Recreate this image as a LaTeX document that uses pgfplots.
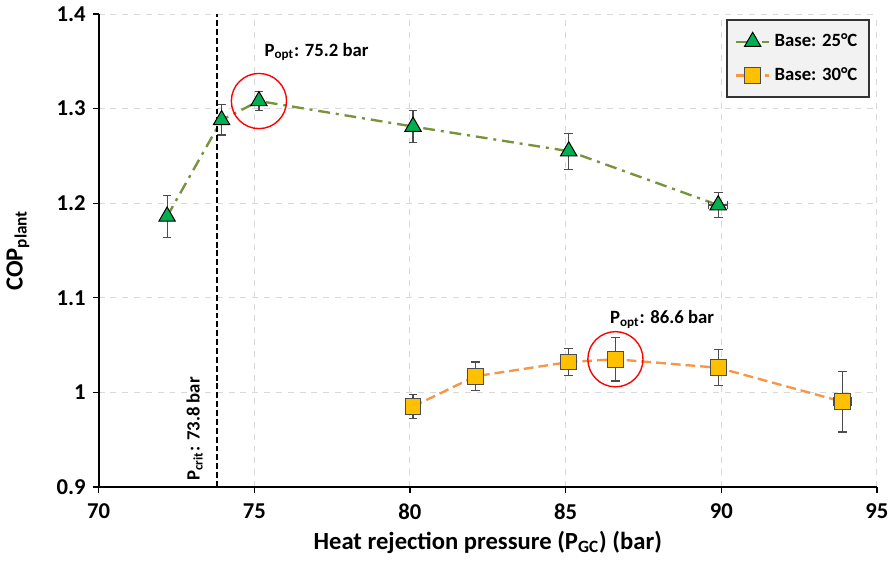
\documentclass[border=0pt]{standalone}
\usepackage{fontspec}
\setmainfont{Carlito}
\usepackage{pgfplots}
\pgfplotsset{compat=1.18}
\definecolor{olive25}{HTML}{77933C}
\definecolor{green25}{HTML}{00B050}
\definecolor{orange30}{HTML}{F79646}
\definecolor{gold30}{HTML}{FFC000}
\definecolor{gridgray}{HTML}{D9D9D9}
\begin{document}
\begin{tikzpicture}
\begin{axis}[
  scale only axis,
  width=395pt, height=240pt,
  xmin=70, xmax=95, ymin=0.9, ymax=1.4,
  xtick={70,75,...,95},
  ytick={0.9,1,1.1,1.2,1.3,1.4},
  axis x line*=bottom, axis y line*=left,
  axis line style={line width=1pt, black},
  tick align=outside, major tick length=3pt,
  tick style={black, line width=0.6pt},
  grid=major,
  major grid style={gridgray, dashed, line width=0.5pt},
  /pgf/number format/assume math mode=true,
  ticklabel style={font=\fontsize{11.5}{13}\selectfont\bfseries},
  xticklabel style={yshift=-2pt},
  xlabel={Heat rejection pressure (P\textsubscript{GC}) (bar)},
  ylabel={COP\textsubscript{plant}},
  label style={font=\fontsize{12.5}{15}\selectfont\bfseries},
  xlabel style={yshift=1pt},
  ylabel style={yshift=7pt},
  clip=false,
  legend style={at={(0.991,0.989)}, anchor=north east, fill=black!5,
    draw=black!80, line width=0.8pt, font=\fontsize{9.5}{11}\selectfont\bfseries,
    row sep=5pt, inner xsep=4pt, inner ysep=5pt},
  legend cell align=left,
  error bars/error bar style={solid, black!70, line width=0.6pt},
  error bars/error mark options={solid, rotate=90, mark size=2.2pt, black!70, line width=0.6pt},
]
\addplot[olive25, line width=1.2pt, dash pattern=on 6pt off 3pt on 1.5pt off 3pt,
  mark=triangle*, mark size=4.8pt,
  mark options={solid, fill=green25, draw=black, line width=0.5pt},
  error bars/.cd, y dir=both, y explicit, x dir=both, x explicit]
coordinates {
  (72.2,1.186) +- (0,0.022)
  (73.95,1.288) +- (0,0.016)
  (75.15,1.308) +- (0,0.010)
  (80.1,1.281) +- (0,0.017)
  (85.1,1.255) +- (0,0.019)
  (89.9,1.198) +- (0.3,0.013)
};
\addlegendentry{Base: 25°C}
\addplot[orange30, line width=1.2pt, dash pattern=on 5pt off 2.5pt,
  mark=square*, mark size=4pt,
  mark options={solid, fill=gold30, draw=black!70, line width=0.5pt},
  error bars/.cd, y dir=both, y explicit, x dir=both, x explicit]
coordinates {
  (80.1,0.985) +- (0,0.013)
  (82.1,1.017) +- (0,0.015)
  (85.1,1.032) +- (0,0.014)
  (86.6,1.035) +- (0,0.023)
  (89.9,1.026) +- (0,0.019)
  (93.9,0.990) +- (0.28,0.032)
};
\addlegendentry{Base: 30°C}
\draw[black, dash pattern=on 3pt off 1.5pt, line width=0.7pt] (axis cs:73.8,0.9) -- (axis cs:73.8,1.4);
\node[rotate=90, anchor=south west, font=\fontsize{9.5}{11}\selectfont\bfseries, inner sep=1pt]
  at ([xshift=-6pt, yshift=2pt]axis cs:73.8,0.9) {P\textsubscript{crit}: 73.8 bar};
\draw[red, line width=0.7pt] (axis cs:75.15,1.308) circle [radius=14pt];
\draw[red, line width=0.7pt] (axis cs:86.6,1.035) circle [radius=14pt];
\node[font=\fontsize{9.5}{11}\selectfont\bfseries] at (axis cs:77.0,1.36) {P\textsubscript{opt}: 75.2 bar};
\node[font=\fontsize{9.5}{11}\selectfont\bfseries] at (axis cs:88.1,1.077) {P\textsubscript{opt}: 86.6 bar};
\end{axis}
\end{tikzpicture}
\end{document}
